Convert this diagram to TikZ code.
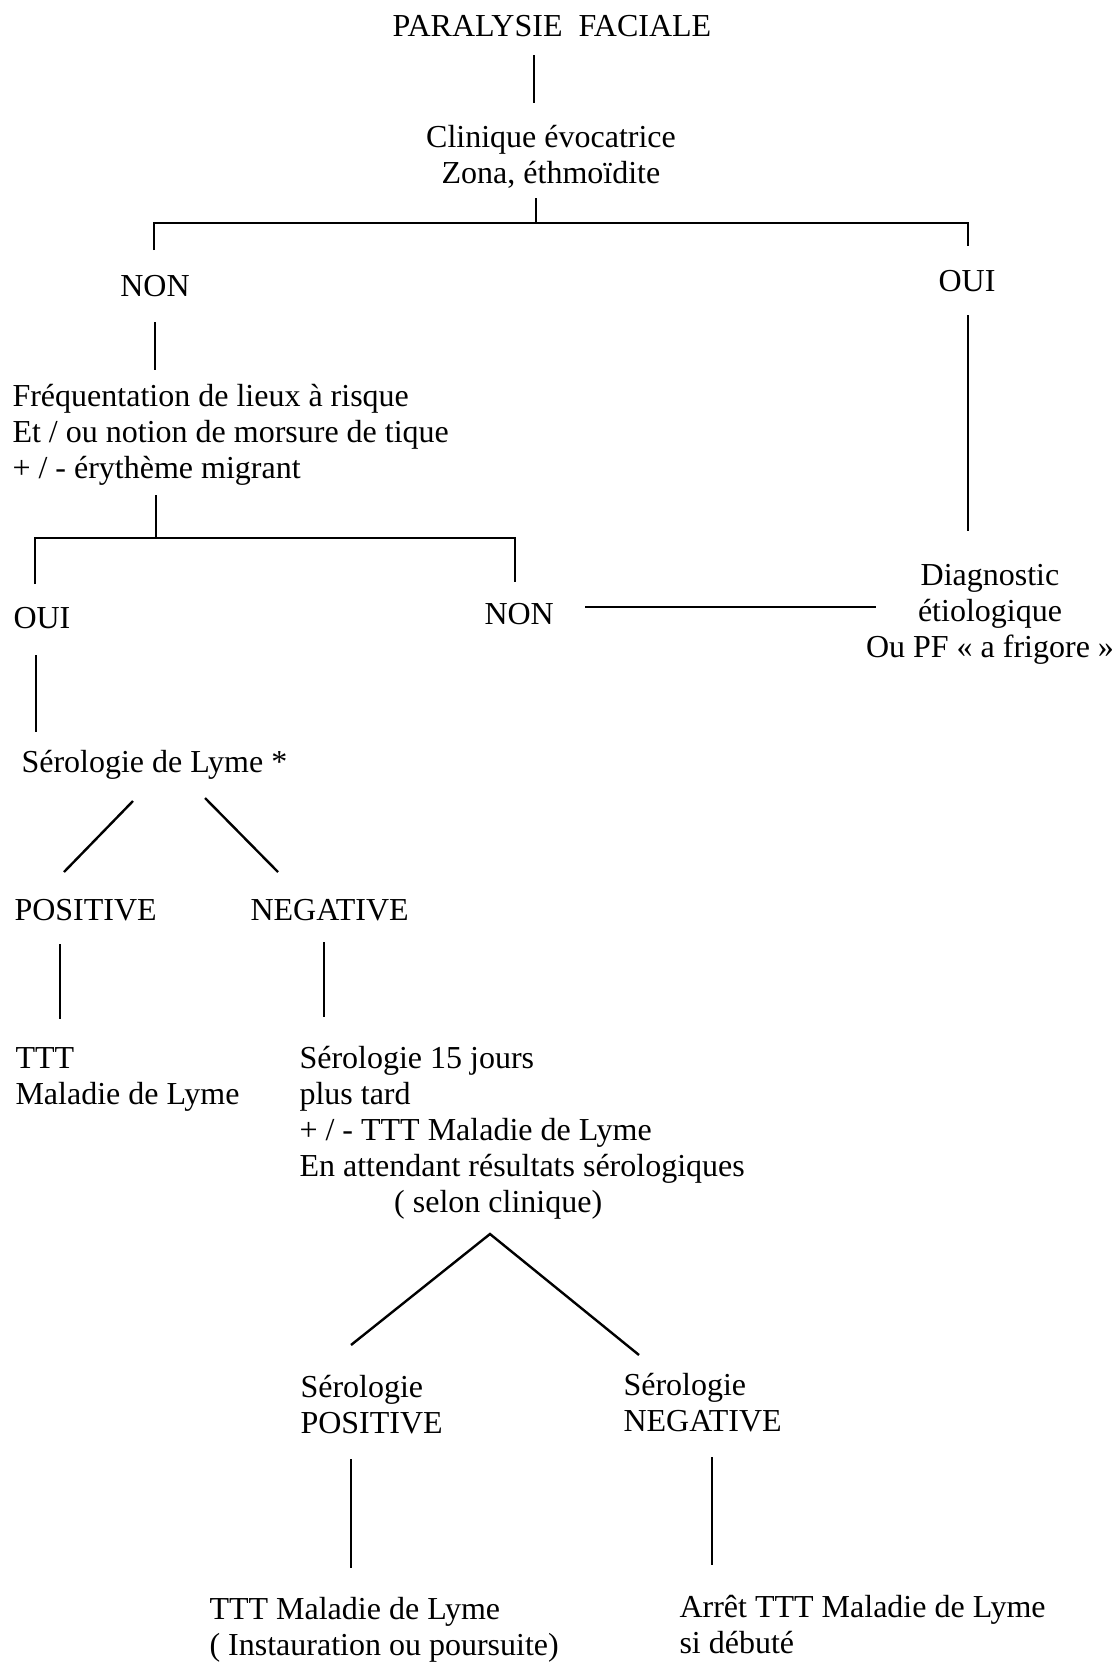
\documentclass[tikz,border=0pt]{standalone}
\usepackage{fontspec}
\setmainfont{Liberation Serif}
\begin{document}
\begin{tikzpicture}[x=0.375pt,y=-0.375pt,
  txt/.style={inner sep=0pt,font=\fontsize{12pt}{13.5pt}\selectfont},
  lt/.style={txt,anchor=base west,align=left},
  ct/.style={txt,anchor=base,align=center},
  conn/.style={line width=0.9pt,black}]
\useasboundingbox[fill=white] (0,0) rectangle (1112,1664);
% texts (anchor = baseline of the last line)
\node[ct] (title) at (552,36) {PARALYSIE\ \ FACIALE};
\node[ct] (clin) at (551,183) {Clinique évocatrice\\Zona, éthmoïdite};
\node[ct] (non1) at (155,296) {NON};
\node[ct] (oui1) at (967,291) {OUI};
\node[lt] (freq) at (12,478) {Fréquentation de lieux à risque\\Et / ou notion de morsure de tique\\+ / - érythème migrant};
\node[lt] (oui2) at (13,628) {OUI};
\node[lt] (non2) at (484,624) {NON};
\node[ct] (diag) at (990,657) {Diagnostic\\étiologique\\Ou PF « a frigore »};
\node[lt] (sero) at (21,772) {Sérologie de Lyme *};
\node[lt] (pos1) at (14,920) {POSITIVE};
\node[lt] (neg1) at (250,920) {NEGATIVE};
\node[lt] (ttt1) at (15,1104) {TTT\\Maladie de Lyme};
\node[lt] (sero15) at (299,1212) {Sérologie 15 jours\\plus tard\\+ / - TTT Maladie de Lyme\\En attendant résultats sérologiques\\\hspace*{35.5pt}( selon clinique)};
\node[lt] (pos2) at (300,1433) {Sérologie\\POSITIVE};
\node[lt] (neg2) at (623,1431) {Sérologie\\NEGATIVE};
\node[lt] (ttt2) at (209,1655) {TTT Maladie de Lyme\\( Instauration ou poursuite)};
\node[lt] (arret) at (679,1653) {Arrêt TTT Maladie de Lyme\\si débuté};
% connector end points
\coordinate (a1) at (534,55);   \coordinate (a2) at (534,103);
\coordinate (b1) at (536,198);  \coordinate (b2) at (536,223);
\coordinate (bl) at (154,223);  \coordinate (bl2) at (154,250);
\coordinate (br) at (968,223);  \coordinate (br2) at (968,246);
\coordinate (c1) at (155,322);  \coordinate (c2) at (155,370);
\coordinate (d1) at (968,315);  \coordinate (d2) at (968,531);
\coordinate (e1) at (156,495);  \coordinate (e2) at (156,538);
\coordinate (el) at (35,538);   \coordinate (el2) at (35,584);
\coordinate (er) at (515,538);  \coordinate (er2) at (515,582);
\coordinate (f1) at (585,607);  \coordinate (f2) at (876,607);
\coordinate (g1) at (36,655);   \coordinate (g2) at (36,732);
\coordinate (h1) at (133,801);  \coordinate (h2) at (64,872);
\coordinate (i1) at (205,798);  \coordinate (i2) at (278,872);
\coordinate (j1) at (60,944);   \coordinate (j2) at (60,1019);
\coordinate (k1) at (324,942);  \coordinate (k2) at (324,1017);
\coordinate (apex) at (490,1234);
\coordinate (ml) at (351,1345); \coordinate (mr) at (639,1355);
\coordinate (n1) at (351,1459); \coordinate (n2) at (351,1568);
\coordinate (o1) at (712,1457); \coordinate (o2) at (712,1565);
% connectors
\draw[conn] (a1) -- (a2);
\draw[conn] (b1) -- (b2);
\draw[conn] (bl2) -- (bl) -- (br) -- (br2);
\draw[conn] (c1) -- (c2);
\draw[conn] (d1) -- (d2);
\draw[conn] (e1) -- (e2);
\draw[conn] (el2) -- (el) -- (er) -- (er2);
\draw[conn] (f1) -- (f2);
\draw[conn] (g1) -- (g2);
\draw[conn] (h1) -- (h2);
\draw[conn] (i1) -- (i2);
\draw[conn] (j1) -- (j2);
\draw[conn] (k1) -- (k2);
\draw[conn] (ml) -- (apex) -- (mr);
\draw[conn] (n1) -- (n2);
\draw[conn] (o1) -- (o2);
\end{tikzpicture}
\end{document}
